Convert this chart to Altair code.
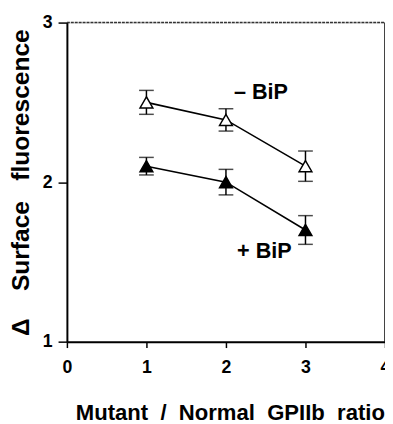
import altair as alt
import pandas as pd

ratio = [1, 2, 3]
minus_bip = [2.50, 2.39, 2.10]
minus_err = [0.075, 0.07, 0.095]
plus_bip = [2.10, 2.00, 1.70]
plus_err = [0.055, 0.08, 0.09]

rows = []
for x, v, e in zip(ratio, minus_bip, minus_err):
    rows.append({"x": x, "y": v, "lo": v - e, "hi": v + e, "series": "minus"})
for x, v, e in zip(ratio, plus_bip, plus_err):
    rows.append({"x": x, "y": v, "lo": v - e, "hi": v + e, "series": "plus"})
df = pd.DataFrame(rows)

labels = pd.DataFrame({"x": [2.10, 2.14], "y": [2.565, 1.565],
                       "t": ["– BiP", "+ BiP"]})

FONT = "Liberation Sans"
xs = alt.Scale(domain=[0, 4], nice=False, zero=False)
ys = alt.Scale(domain=[1, 3], nice=False, zero=False)

xax = alt.Axis(values=[0, 1, 2, 3, 4], format="d",
               title="Mutant\u00a0\u00a0/\u00a0\u00a0Normal\u00a0\u00a0GPIIb\u00a0\u00a0ratio",
               titleX=166,
               labelFont=FONT, labelFontWeight="bold", labelFontSize=18, labelColor="black",
               titleFont=FONT, titleFontWeight="bold", titleFontSize=22.5, titleColor="black",
               titlePadding=26, labelPadding=11, tickSize=6, tickColor="black", tickWidth=1.5,
               domainColor="black", domainWidth=2, grid=False, labelFlush=False, labelOverlap=False)
yax = alt.Axis(tickCount=2, format="d",
               title="\u0394\u00a0\u00a0\u00a0\u00a0Surface\u00a0\u00a0\u00a0fluorescence",
               labelFont=FONT, labelFontWeight="bold", labelFontSize=18, labelColor="black",
               titleFont=FONT, titleFontWeight="bold", titleFontSize=25, titleColor="black",
               titlePadding=9, labelPadding=6, tickSize=9, tickColor="black", tickWidth=1.5,
               domainColor="black", domainWidth=2, grid=False, labelOverlap=False)

X = lambda f: alt.X(f, type="quantitative", scale=xs, axis=xax)
Y = lambda f: alt.Y(f, type="quantitative", scale=ys, axis=yax)

base = alt.Chart(df)
lines = base.mark_line(color="black", strokeWidth=1.6).encode(
    x=X("x"), y=Y("y"), detail="series:N")
bars = base.mark_rule(color="black", strokeWidth=1.5).encode(
    x=X("x"), y=Y("lo"), y2="hi:Q")
cap_lo = base.mark_tick(color="black", thickness=1.5, size=15, orient="horizontal").encode(
    x=X("x"), y=Y("lo"))
cap_hi = base.mark_tick(color="black", thickness=1.5, size=15, orient="horizontal").encode(
    x=X("x"), y=Y("hi"))
pts = base.mark_point(shape="triangle-up", size=170, stroke="black", strokeWidth=1.5, opacity=1).encode(
    x=X("x"), y=Y("y"),
    fill=alt.Fill("series:N", scale=alt.Scale(domain=["minus", "plus"], range=["white", "black"]), legend=None),
)
txt = alt.Chart(labels).mark_text(font=FONT, fontWeight="bold", fontSize=22, align="left",
                                  baseline="middle", color="black").encode(
    x=X("x"), y=Y("y"), text="t:N")
top = alt.Chart(pd.DataFrame({"y": [3]})).mark_rule(color="#333", strokeWidth=1.5, strokeDash=[3, 1]).encode(
    y=Y("y"), x=alt.value(0), x2=alt.value(324))
right = alt.Chart(pd.DataFrame({"x": [4]})).mark_rule(color="black", strokeWidth=1.5).encode(
    x=X("x"), y=alt.value(0), y2=alt.value(325))

chart = alt.layer(top, right, lines, bars, cap_lo, cap_hi, pts, txt).properties(
    width=324, height=325,
    autosize=alt.AutoSizeParams(type="none"),
    padding={"left": 60, "top": 11, "right": 0, "bottom": 80},
).configure_view(stroke=None).configure(background="white")

chart.save("out.html", embed_options={"renderer": "svg", "actions": False})
